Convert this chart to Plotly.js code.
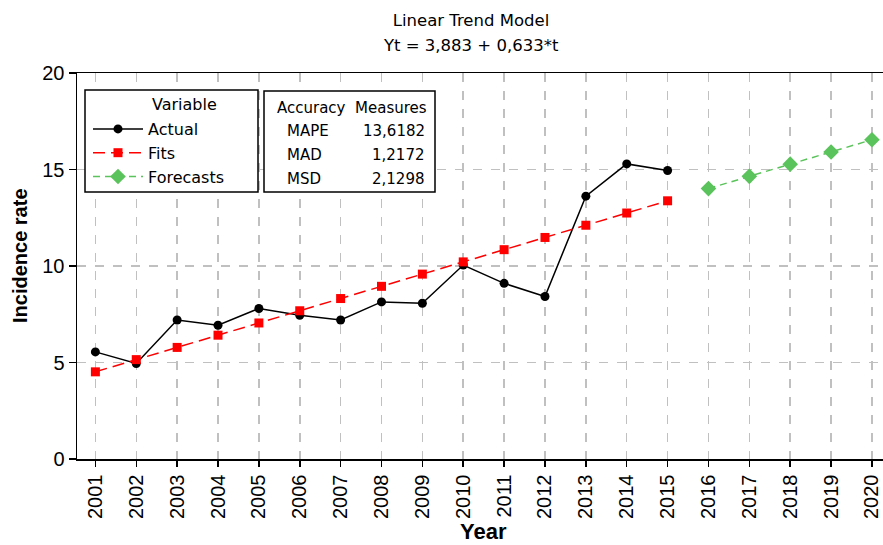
<!DOCTYPE html>
<html>
<head>
<meta charset="utf-8">
<script src="https://cdn.plot.ly/plotly-3.0.1.min.js"></script>
<style>html,body{margin:0;padding:0;background:#fff;}#chart{width:883px;height:545px;}</style>
</head>
<body>
<div id="chart"></div>
<script>
// ---- data ----
const actualYears = [2001,2002,2003,2004,2005,2006,2007,2008,2009,2010,2011,2012,2013,2014,2015];
const actualValues = [5.55,4.95,7.2,6.93,7.8,7.45,7.2,8.14,8.07,10.05,9.1,8.42,13.62,15.29,14.95];
const fitYears = [2001,2002,2003,2004,2005,2006,2007,2008,2009,2010,2011,2012,2013,2014,2015];
const fitValues = [4.516,5.149,5.782,6.415,7.048,7.681,8.314,8.947,9.580,10.213,10.846,11.479,12.112,12.745,13.378];
const forecastYears = [2016,2017,2018,2019,2020];
const forecastValues = [14.011,14.644,15.277,15.910,16.543];
const tickYears = [2001,2002,2003,2004,2005,2006,2007,2008,2009,2010,2011,2012,2013,2014,2015,2016,2017,2018,2019,2020];
const yTicks = [0,5,10,15,20];
const measureNames = ["MAPE","MAD","MSD"];
const measureValues = ["13,6182","1,2172","2,1298"];
const titleLine1 = "Linear Trend Model";
const titleLine2 = "Yt = 3,883 + 0,633*t";

const textFont = "DejaVu Sans, Verdana, sans-serif";
const axisFont = "Liberation Sans, Arial, sans-serif";

const traces = [
  {x: actualYears, y: actualValues, name: "Actual", type: "scatter", mode: "lines+markers",
   line: {color: "#000000", width: 1.5}, marker: {symbol: "circle", size: 9, color: "#000000"}},
  {x: fitYears, y: fitValues, name: "Fits", type: "scatter", mode: "lines+markers",
   line: {color: "#FF0000", width: 1.5, dash: "12px,6px"}, marker: {symbol: "square", size: 9, color: "#FF0000"}},
  {x: forecastYears, y: forecastValues, name: "Forecasts", type: "scatter", mode: "lines+markers",
   line: {color: "#5BC35B", width: 1.5, dash: "7px,5px"}, marker: {symbol: "diamond", size: 12, color: "#5BC35B"}}
];

// pixel -> paper helpers for boxes and texts (plot area 77..883 x, 73..459 y)
const L = 77, R = 883, T = 73, B = 459;
const px = v => (v - L) / (R - L);
const py = v => (B - v) / (B - T);

const annotations = [
  {xref: "paper", yref: "paper", x: px(471), y: py(46), text: titleLine2, showarrow: false,
   xanchor: "center", yanchor: "middle", font: {family: textFont, size: 16.5, color: "#000"}},
  {xref: "paper", yref: "paper", x: px(150), y: py(105), text: "Variable", showarrow: false,
   xanchor: "left", yanchor: "middle", font: {family: textFont, size: 16, color: "#000"}},
  {xref: "paper", yref: "paper", x: px(352), y: py(108), text: "Accuracy  Measures", showarrow: false,
   xanchor: "center", yanchor: "middle", font: {family: textFont, size: 15, color: "#000"}},
  {xref: "paper", yref: "paper", x: px(20), y: py(256), text: "Incidence rate", showarrow: false, textangle: -90,
   xanchor: "center", yanchor: "middle", font: {family: axisFont, size: 20, color: "#000", weight: "bold"}},
  {xref: "paper", yref: "paper", x: px(483), y: py(531), text: "Year", showarrow: false,
   xanchor: "center", yanchor: "middle", font: {family: axisFont, size: 22, color: "#000", weight: "bold"}}
];
const rowY = [131, 155, 179];
measureNames.forEach((n, i) => {
  annotations.push({xref: "paper", yref: "paper", x: px(285), y: py(rowY[i]), text: n, showarrow: false,
    xanchor: "left", yanchor: "middle", font: {family: textFont, size: 15, color: "#000"}});
  annotations.push({xref: "paper", yref: "paper", x: px(427), y: py(rowY[i]), text: measureValues[i], showarrow: false,
    xanchor: "right", yanchor: "middle", font: {family: textFont, size: 15, color: "#000"}});
});

const layout = {
  width: 883, height: 545,
  margin: {l: 77, r: 0, t: 73, b: 86, pad: 0},
  paper_bgcolor: "#fff", plot_bgcolor: "#fff",
  title: {text: titleLine1, x: 471 / 883, xanchor: "center",
          y: 1 - 20 / 545, yanchor: "middle",
          font: {family: textFont, size: 16.5, color: "#000"}},
  xaxis: {
    range: [2000.55, 2020.27], tickmode: "array", tickvals: tickYears, ticktext: tickYears.map(String),
    tickangle: -90, ticks: "outside", ticklen: 6, tickwidth: 1.5, tickcolor: "#000",
    showline: true, linecolor: "#000", linewidth: 1.5, mirror: true,
    showgrid: true, gridcolor: "#C0C0C0", griddash: "dash", gridwidth: 1.5,
    zeroline: false, tickfont: {family: axisFont, size: 20, color: "#000"}
  },
  yaxis: {
    range: [0, 20], tickmode: "array", tickvals: yTicks,
    ticks: "outside", ticklen: 7, tickwidth: 1.5, tickcolor: "#000",
    showline: true, linecolor: "#000", linewidth: 1.5, mirror: true,
    showgrid: true, gridcolor: "#C0C0C0", griddash: "dash", gridwidth: 1.5,
    zeroline: false, tickfont: {family: axisFont, size: 20, color: "#000"}
  },
  showlegend: true,
  legend: {
    x: px(88), y: py(112), xanchor: "left", yanchor: "top",
    bgcolor: "rgba(0,0,0,0)", borderwidth: 0,
    font: {family: textFont, size: 16, color: "#000"},
    itemwidth: 50, tracegroupgap: 0
  },
  shapes: [
    {type: "rect", xref: "paper", yref: "paper", x0: px(85), x1: px(258), y0: py(192), y1: py(90),
     line: {color: "#000", width: 1.5}, fillcolor: "#fff", layer: "above"},
    {type: "rect", xref: "paper", yref: "paper", x0: px(264), x1: px(435), y0: py(192), y1: py(91),
     line: {color: "#000", width: 1.5}, fillcolor: "#fff", layer: "above"}
  ],
  annotations: annotations
};

Plotly.newPlot("chart", traces, layout, {displayModeBar: false, staticPlot: true});
</script>
</body>
</html>
